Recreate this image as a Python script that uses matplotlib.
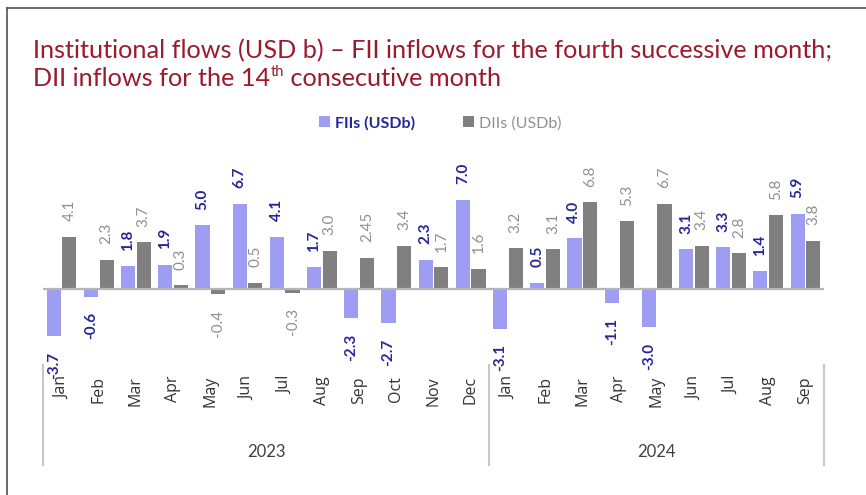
import matplotlib
matplotlib.use("Agg")
import matplotlib.pyplot as plt
from matplotlib.patches import Patch
from matplotlib.lines import Line2D
from matplotlib.transforms import blended_transform_factory

plt.rcParams['font.family'] = ['Lato', 'DejaVu Sans']

# Monthly data
months = ["Jan", "Feb", "Mar", "Apr", "May", "Jun", "Jul", "Aug", "Sep", "Oct", "Nov", "Dec",
          "Jan", "Feb", "Mar", "Apr", "May", "Jun", "Jul", "Aug", "Sep"]
years = ["2023", "2024"]
year_lengths = [12, 9]
fii = [-3.7, -0.6, 1.8, 1.9, 5.0, 6.7, 4.1, 1.7, -2.3, -2.7, 2.3, 7.0,
       -3.1, 0.5, 4.0, -1.1, -3.0, 3.1, 3.3, 1.4, 5.9]
dii = [4.1, 2.3, 3.7, 0.3, -0.4, 0.5, -0.3, 3.0, 2.45, 3.4, 1.7, 1.6,
       3.2, 3.1, 6.8, 5.3, 6.7, 3.4, 2.8, 5.8, 3.8]

FII_COLOR = "#9d9df4"
DII_COLOR = "#808080"
FII_TEXT = "#26269a"
DII_TEXT = "#909090"
TITLE_COLOR = "#9b1b2e"

W, H = 866, 495
fig = plt.figure(figsize=(W / 100, H / 100), dpi=100)
fig.patch.set_facecolor("white")

def fx(px):
    return px / W

def fy(py):
    return 1 - py / H

ax = fig.add_axes([fx(43), fy(339), fx(824) - fx(43), fy(150) - fy(339)])
ax.set_xlim(-0.5, len(months) - 0.5)
ax.set_ylim(-3.92, 10.9)
ax.axis("off")

x = list(range(len(months)))
bw = 0.38
off = 0.21
ax.bar([i - off for i in x], fii, width=bw, color=FII_COLOR, zorder=2)
ax.bar([i + off for i in x], dii, width=bw, color=DII_COLOR, zorder=2)
ax.axhline(0, color="#b5b5b5", lw=1.6, zorder=3)


def fmt(v):
    return f"{v:.1f}" if round(v, 1) == v else f"{v:.2f}"


def label(xpos, v, color, weight):
    pad = 11
    ax.annotate(fmt(v), (xpos, v), xytext=(0, pad if v >= 0 else -pad),
                textcoords="offset points", rotation=90, ha="center",
                va="bottom" if v >= 0 else "top", color=color,
                fontsize=11, fontweight=weight, annotation_clip=False)


for i in x:
    label(i - off, fii[i], FII_TEXT, "bold")
    label(i + off, dii[i], DII_TEXT, "normal")

# Month and year category labels
tr = blended_transform_factory(ax.transData, fig.transFigure)
for i, m in enumerate(months):
    ax.text(i, fy(376), m, transform=tr, rotation=90, ha="center", va="top",
            fontsize=11.5, color="#333333", family=["Open Sans", "DejaVu Sans"])

start = 0
bounds = [-0.5]
for yr, n in zip(years, year_lengths):
    ax.text(start + (n - 1) / 2, fy(452), yr, transform=tr, ha="center", va="center",
            fontsize=12, color="#404040")
    start += n
    bounds.append(start - 0.5)
for b in bounds:
    ax.add_line(Line2D([b, b], [fy(365), fy(465)], transform=tr, color="#c8c8c8",
                       lw=1.5, clip_on=False))

# Title with superscript ordinal
TS = 18.2
fig.text(fx(33), fy(58), "Institutional flows (USD b) \u2013 FII inflows for the fourth successive month;",
         fontsize=TS, color=TITLE_COLOR, va="baseline", ha="left")
renderer = fig.canvas.get_renderer()
t1 = fig.text(fx(33), fy(86), "DII inflows for the 14", fontsize=TS, color=TITLE_COLOR,
              va="baseline", ha="left")
bb = t1.get_window_extent(renderer)
t2 = fig.text(bb.x1 / W + fx(1), fy(86) + 10 / H, "th", fontsize=10.5, color=TITLE_COLOR,
              va="baseline", ha="left")
bb2 = t2.get_window_extent(renderer)
fig.text(bb2.x1 / W, fy(86), " consecutive month", fontsize=TS, color=TITLE_COLOR,
         va="baseline", ha="left")

# Legend
handles = [Patch(facecolor=FII_COLOR), Patch(facecolor=DII_COLOR)]
leg = fig.legend(handles, ["FIIs (USDb)", "DIIs (USDb)"], loc="center",
                 bbox_to_anchor=(fx(440), fy(123)), ncol=2, frameon=False,
                 handlelength=0.7, handleheight=0.7, handletextpad=0.3,
                 columnspacing=3.0, fontsize=11.5)
leg.get_texts()[0].set_color(FII_TEXT)
leg.get_texts()[0].set_fontweight("bold")
leg.get_texts()[1].set_color(DII_TEXT)

# Outer frame (top and left edges)
fig.add_artist(Line2D([fx(7), fx(7)], [fy(8), 0], transform=fig.transFigure,
                      color="#505050", lw=1.2))
fig.add_artist(Line2D([fx(7), 1], [fy(8), fy(8)], transform=fig.transFigure,
                      color="#505050", lw=1.2))

fig.savefig("out.png", dpi=100, facecolor="white")
